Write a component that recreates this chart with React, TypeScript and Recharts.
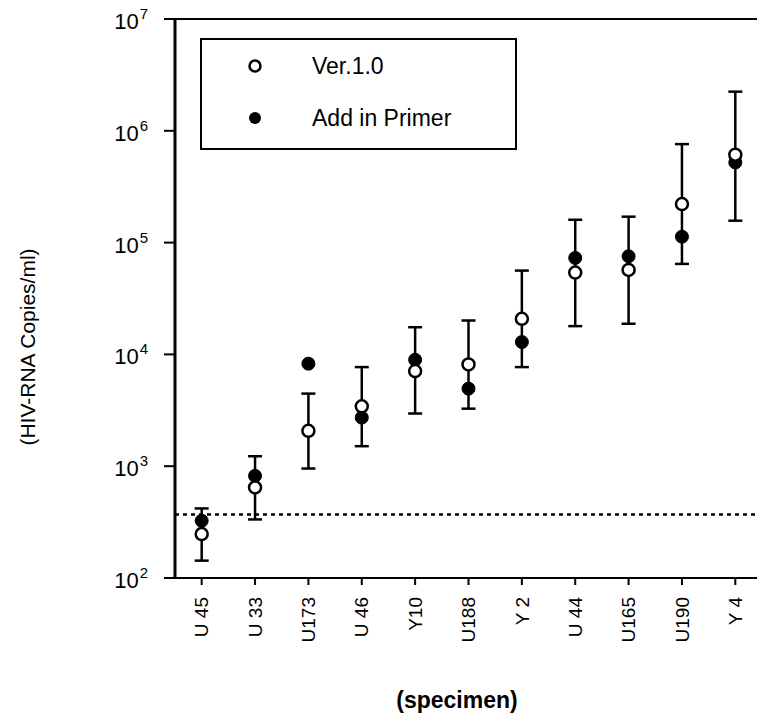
import React from 'react';
import {
  ComposedChart,
  Scatter,
  XAxis,
  YAxis,
  ErrorBar,
  ReferenceLine,
  Legend,
} from 'recharts';

const specimens = ['U 45', 'U 33', 'U173', 'U 46', 'Y10', 'U188', 'Y 2', 'U 44', 'U165', 'U190', 'Y 4'];

// Ver.1.0 (open circles) with its error range
const ver10 = [247, 645, 2070, 3430, 7100, 8140, 20800, 54000, 57000, 221000, 611000];
const ver10Low = [143, 334, 953, 1510, 2960, 3270, 7700, 17900, 18800, 64500, 157000];
const ver10High = [419, 1228, 4460, 7700, 17500, 20100, 56200, 160000, 170600, 760000, 2240000];

// Add in Primer (filled circles)
const addPrimer = [325, 820, 8260, 2720, 8960, 4940, 12900, 72900, 75500, 113000, 521000];

const yTicks = [1e2, 1e3, 1e4, 1e5, 1e6, 1e7];
const cutoff = 370;

const data = specimens.map((name, i) => ({
  name,
  ver: ver10[i],
  primer: addPrimer[i],
  verErr: [ver10[i] - ver10Low[i], ver10High[i] - ver10[i]],
}));

const FONT = '"Liberation Sans", Arial, Helvetica, sans-serif';

const OpenDot = (props: any) => (
  <circle cx={props.cx} cy={props.cy} r={6} fill="#fff" stroke="#000" strokeWidth={2.5} />
);

const FilledDot = (props: any) => (
  <circle cx={props.cx} cy={props.cy} r={6.5} fill="#000" stroke="#000" strokeWidth={1} />
);

const YTick = (props: any) => {
  const { x, y, payload } = props;
  const exp = Math.round(Math.log10(payload.value));
  return (
    <text x={x - 14} y={y + 10} textAnchor="end" fontFamily={FONT} fontSize={22} fill="#000">
      <tspan>10</tspan>
      <tspan dx={1} dy={-10} fontSize={15}>{exp}</tspan>
    </text>
  );
};

const XTick = (props: any) => {
  const { x, y, payload } = props;
  return (
    <text
      x={x}
      y={y + 10}
      dy="0.35em"
      transform={`rotate(-90, ${x}, ${y + 10})`}
      textAnchor="end"
      fontFamily={FONT}
      fontSize={19}
      fill="#000"
    >
      {payload.value}
    </text>
  );
};

const LegendBox = () => (
  <div
    style={{
      width: 313,
      height: 108,
      border: '2px solid #000',
      boxSizing: 'content-box',
      fontFamily: FONT,
      fontSize: 23,
      position: 'relative',
      background: '#fff',
    }}
  >
    {[
      { label: 'Ver.1.0', open: true, top: 26 },
      { label: 'Add in Primer', open: false, top: 78 },
    ].map((item) => (
      <div key={item.label} style={{ position: 'absolute', left: 0, top: item.top - 14, height: 28, display: 'flex', alignItems: 'center' }}>
        <svg width={110} height={28} style={{ display: 'block' }}>
          {item.open ? (
            <circle cx={53} cy={14} r={5.5} fill="#fff" stroke="#000" strokeWidth={2.5} />
          ) : (
            <circle cx={53} cy={14} r={6} fill="#000" />
          )}
        </svg>
        <span>{item.label}</span>
      </div>
    ))}
  </div>
);

export default function App() {
  return (
    <div style={{ position: 'absolute', left: 0, top: 0, width: 757, height: 715, overflow: 'hidden', background: '#fff' }}>
      <ComposedChart width={762} height={715} data={data} margin={{ top: 19, right: 0, bottom: 0, left: 0 }}>
        <XAxis
          dataKey="name"
          type="category"
          scale="band"
          interval={0}
          height={137}
          tickSize={7}
          tick={<XTick />}
          axisLine={{ stroke: '#000', strokeWidth: 2 }}
          tickLine={{ stroke: '#000', strokeWidth: 2 }}
          label={() => (
            <text x={457} y={708} textAnchor="middle" fontFamily={FONT} fontSize={23} fontWeight="bold" fill="#000">
              (specimen)
            </text>
          )}
        />
        <YAxis
          scale="log"
          type="number"
          domain={[100, 1e7]}
          ticks={yTicks}
          allowDataOverflow
          width={175}
          tickSize={11}
          tick={<YTick />}
          axisLine={{ stroke: '#000', strokeWidth: 3 }}
          tickLine={{ stroke: '#000', strokeWidth: 2 }}
          label={() => (
            <text
              x={27}
              y={347}
              transform="rotate(-90, 27, 347)"
              textAnchor="middle"
              dominantBaseline="central"
              fontFamily={FONT}
              fontSize={21}
              fill="#000"
            >
              (HIV-RNA Copies/ml)
            </text>
          )}
        />
        <ReferenceLine y={1e7} stroke="#000" strokeWidth={2} />
        <ReferenceLine y={cutoff} stroke="#000" strokeWidth={2.5} strokeDasharray="4 4" />
        <Scatter name="Add in Primer" dataKey="primer" shape={<FilledDot />} isAnimationActive={false} />
        <Scatter name="Ver.1.0" dataKey="ver" shape={<OpenDot />} isAnimationActive={false}>
          <ErrorBar dataKey="verErr" direction="y" width={7} stroke="#000" strokeWidth={2.5} />
        </Scatter>
        <Legend
          layout="vertical"
          align="center"
          verticalAlign="middle"
          content={() => <LegendBox />}
          wrapperStyle={{ position: 'absolute', left: 200, top: 38, width: 'auto' }}
        />
      </ComposedChart>
    </div>
  );
}
